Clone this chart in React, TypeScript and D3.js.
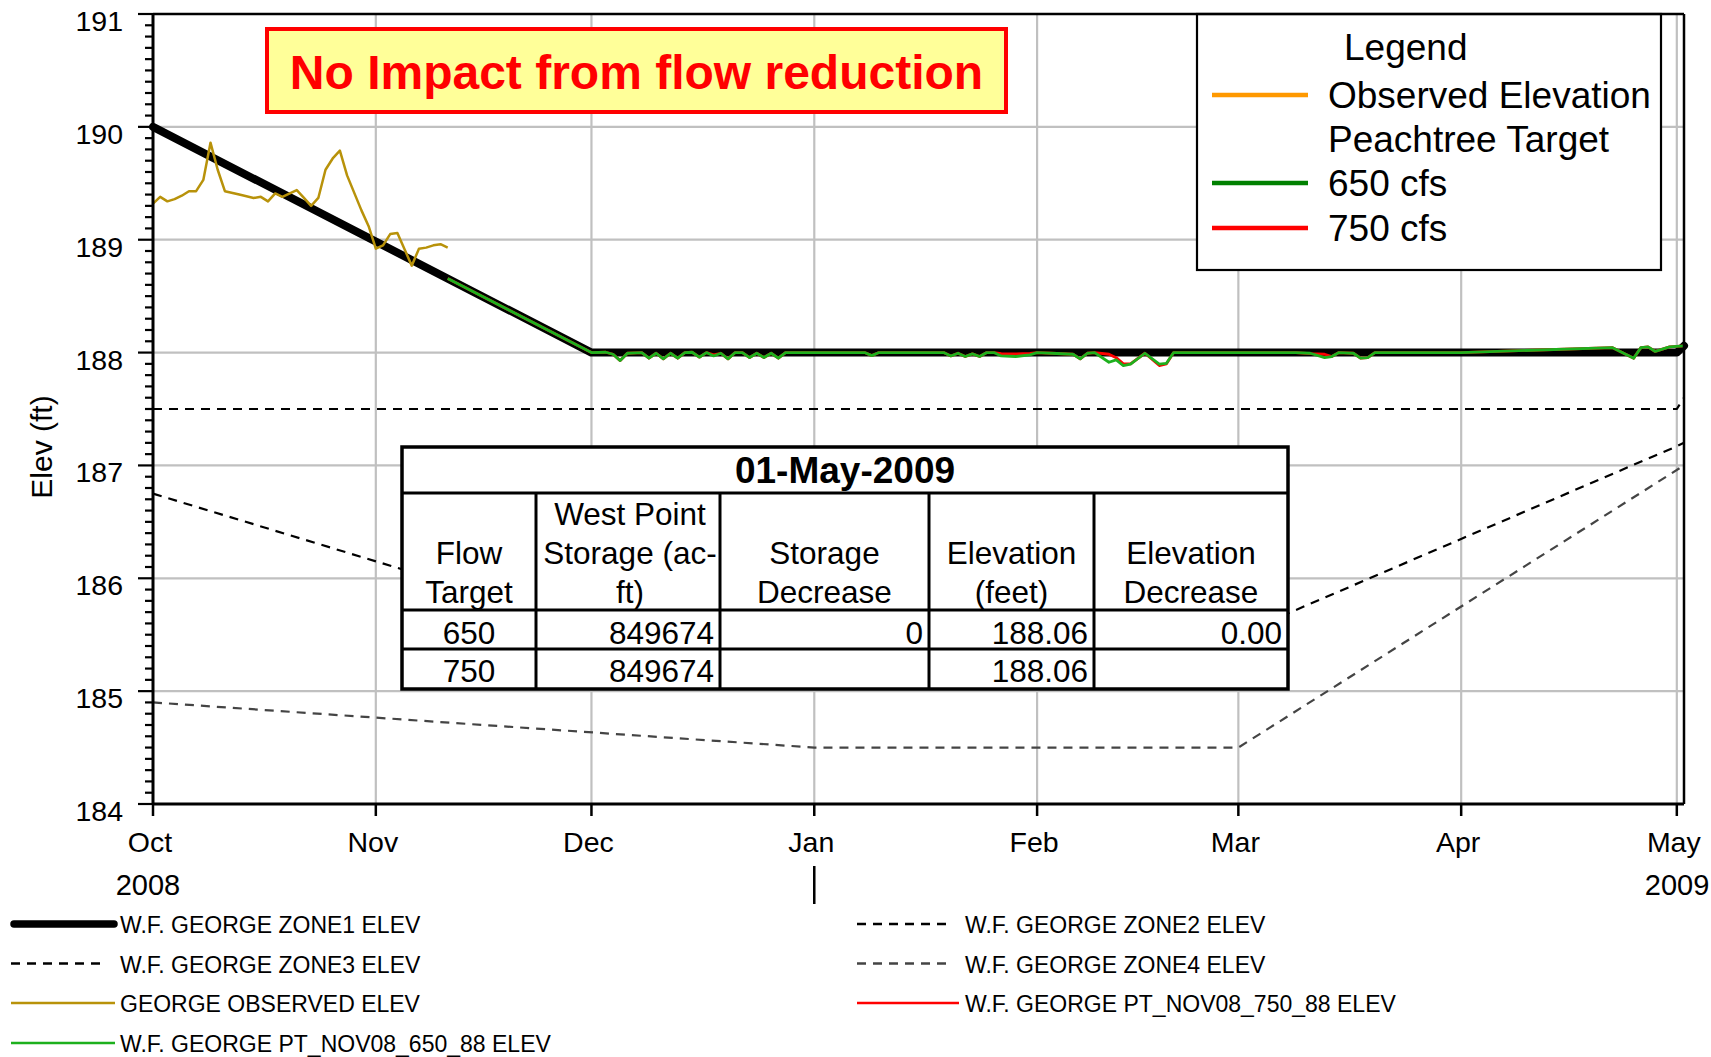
import React from "react";
import * as d3 from "d3";

const FONT = "'Liberation Sans', Arial, Helvetica, sans-serif";

// ---------- data ----------
type Pt = [string, number];

const zone1: Pt[] = [["2008-10-01", 190.0], ["2008-12-01", 188.0], ["2009-05-01", 188.0], ["2009-05-02", 188.06]];
const zone2: Pt[] = [["2008-10-01", 187.5], ["2009-05-01", 187.5], ["2009-05-02", 187.6]];
const zone3: Pt[] = [["2008-10-01", 186.75], ["2008-12-01", 185.57], ["2009-03-01", 185.5], ["2009-05-01", 187.17], ["2009-05-02", 187.2]];
const zone4: Pt[] = [["2008-10-01", 184.9], ["2009-01-01", 184.5], ["2009-03-01", 184.5], ["2009-05-02", 187.0]];

const observed: Pt[] = [
  ["2008-10-01", 189.32], ["2008-10-02", 189.38], ["2008-10-03", 189.34], ["2008-10-04", 189.36],
  ["2008-10-05", 189.39], ["2008-10-06", 189.43], ["2008-10-07", 189.43], ["2008-10-08", 189.53],
  ["2008-10-09", 189.86], ["2008-10-10", 189.62], ["2008-10-11", 189.43], ["2008-10-13", 189.4],
  ["2008-10-15", 189.37], ["2008-10-16", 189.38], ["2008-10-17", 189.34], ["2008-10-18", 189.41],
  ["2008-10-19", 189.38], ["2008-10-21", 189.44], ["2008-10-22", 189.37], ["2008-10-23", 189.3],
  ["2008-10-24", 189.37], ["2008-10-25", 189.62], ["2008-10-26", 189.72], ["2008-10-27", 189.79],
  ["2008-10-28", 189.57], ["2008-10-30", 189.26], ["2008-10-31", 189.12], ["2008-11-01", 188.92],
  ["2008-11-02", 188.95], ["2008-11-03", 189.05], ["2008-11-04", 189.06], ["2008-11-06", 188.77],
  ["2008-11-07", 188.92], ["2008-11-08", 188.93], ["2008-11-09", 188.95], ["2008-11-10", 188.96],
  ["2008-11-11", 188.93],
];

const target650: Pt[] = [
  ["2008-11-11", 188.656], ["2008-12-01", 188.0], ["2008-12-03", 188.003], ["2008-12-04", 187.985],
  ["2008-12-05", 187.929], ["2008-12-06", 187.994], ["2008-12-08", 188.0], ["2008-12-09", 187.95],
  ["2008-12-10", 187.994], ["2008-12-11", 187.944], ["2008-12-12", 187.994], ["2008-12-13", 187.95],
  ["2008-12-14", 188.0], ["2008-12-15", 188.003], ["2008-12-16", 187.959], ["2008-12-17", 188.0],
  ["2008-12-18", 187.97], ["2008-12-19", 187.994], ["2008-12-20", 187.944], ["2008-12-21", 188.0],
  ["2008-12-22", 188.0], ["2008-12-23", 187.956], ["2008-12-24", 187.994], ["2008-12-25", 187.956],
  ["2008-12-26", 187.994], ["2008-12-27", 187.95], ["2008-12-28", 188.0], ["2009-01-08", 188.0],
  ["2009-01-09", 187.973], ["2009-01-10", 188.0], ["2009-01-19", 188.0], ["2009-01-20", 187.97],
  ["2009-01-21", 187.994], ["2009-01-22", 187.965], ["2009-01-23", 187.988], ["2009-01-24", 187.965],
  ["2009-01-25", 188.0], ["2009-01-26", 188.0], ["2009-01-27", 187.97], ["2009-01-29", 187.965],
  ["2009-01-31", 187.979], ["2009-02-01", 188.0], ["2009-02-03", 187.994], ["2009-02-06", 187.985],
  ["2009-02-07", 187.944], ["2009-02-08", 187.994], ["2009-02-09", 188.0], ["2009-02-11", 187.914],
  ["2009-02-12", 187.935], ["2009-02-13", 187.885], ["2009-02-14", 187.897], ["2009-02-16", 187.994],
  ["2009-02-18", 187.897], ["2009-02-19", 187.905], ["2009-02-20", 188.0], ["2009-03-09", 188.0],
  ["2009-03-11", 187.994], ["2009-03-13", 187.956], ["2009-03-14", 187.965], ["2009-03-15", 188.0],
  ["2009-03-17", 187.994], ["2009-03-18", 187.95], ["2009-03-19", 187.956], ["2009-03-20", 188.0],
  ["2009-04-01", 188.0], ["2009-04-22", 188.044], ["2009-04-25", 187.95], ["2009-04-26", 188.044],
  ["2009-04-27", 188.05], ["2009-04-28", 188.01], ["2009-04-30", 188.05], ["2009-05-01", 188.055],
  ["2009-05-02", 188.06],
];

const target750: Pt[] = [
  ["2008-11-11", 188.656], ["2008-12-01", 188.0], ["2008-12-03", 188.003], ["2008-12-04", 187.985],
  ["2008-12-05", 187.929], ["2008-12-06", 187.994], ["2008-12-08", 188.0], ["2008-12-09", 187.95],
  ["2008-12-10", 187.994], ["2008-12-11", 187.944], ["2008-12-12", 187.994], ["2008-12-13", 187.95],
  ["2008-12-14", 188.0], ["2008-12-15", 188.003], ["2008-12-16", 187.959], ["2008-12-17", 188.0],
  ["2008-12-18", 187.98], ["2008-12-19", 187.994], ["2008-12-20", 187.944], ["2008-12-21", 188.0],
  ["2008-12-22", 188.0], ["2008-12-23", 187.956], ["2008-12-24", 187.994], ["2008-12-25", 187.956],
  ["2008-12-26", 187.994], ["2008-12-27", 187.95], ["2008-12-28", 188.0], ["2009-01-08", 188.0],
  ["2009-01-09", 187.973], ["2009-01-10", 188.0], ["2009-01-19", 188.0], ["2009-01-20", 187.97],
  ["2009-01-21", 187.994], ["2009-01-22", 187.965], ["2009-01-23", 187.988], ["2009-01-24", 187.965],
  ["2009-01-25", 188.0], ["2009-01-26", 188.0], ["2009-01-27", 187.99], ["2009-01-29", 187.988],
  ["2009-01-31", 187.992], ["2009-02-01", 188.0], ["2009-02-03", 187.994], ["2009-02-06", 187.985],
  ["2009-02-07", 187.944], ["2009-02-08", 187.994], ["2009-02-09", 188.0], ["2009-02-11", 187.985],
  ["2009-02-12", 187.955], ["2009-02-13", 187.9], ["2009-02-14", 187.9], ["2009-02-16", 187.994],
  ["2009-02-18", 187.885], ["2009-02-19", 187.9], ["2009-02-20", 188.0], ["2009-03-09", 188.0],
  ["2009-03-11", 187.99], ["2009-03-13", 187.985], ["2009-03-14", 187.965], ["2009-03-15", 188.0],
  ["2009-03-17", 187.994], ["2009-03-18", 187.95], ["2009-03-19", 187.956], ["2009-03-20", 188.0],
  ["2009-04-01", 188.0], ["2009-04-22", 188.044], ["2009-04-25", 187.95], ["2009-04-26", 188.044],
  ["2009-04-27", 188.05], ["2009-04-28", 188.01], ["2009-04-30", 188.05], ["2009-05-01", 188.055],
  ["2009-05-02", 188.06],
];

const monthTicks = ["2008-10-01", "2008-11-01", "2008-12-01", "2009-01-01", "2009-02-01", "2009-03-01", "2009-04-01", "2009-05-01"];
const monthLabels = ["Oct", "Nov", "Dec", "Jan", "Feb", "Mar", "Apr", "May"];
const yearLabels: [string, string][] = [["2008-10-01", "2008"], ["2009-05-01", "2009"]];
const yearBreak = "2009-01-01";
const yTicks = [184, 185, 186, 187, 188, 189, 190, 191];

const titleText = "No Impact from flow reduction";
const legendTitle = "Legend";
const legendItems = [
  { label: "Observed Elevation", color: "#FF9900" },
  { label: "Peachtree Target", color: null },
  { label: "650 cfs", color: "#008000" },
  { label: "750 cfs", color: "#FF0000" },
];

const tableDate = "01-May-2009";
const tableHeaders = [
  ["", "Flow", "Target"],
  ["West Point", "Storage (ac-", "ft)"],
  ["", "Storage", "Decrease"],
  ["", "Elevation", "(feet)"],
  ["", "Elevation", "Decrease"],
];
const tableRows = [
  ["650", "849674", "0", "188.06", "0.00"],
  ["750", "849674", "", "188.06", ""],
];

const seriesLegend = [
  { label: "W.F. GEORGE ZONE1 ELEV", col: 0, row: 0, kind: "zone1" },
  { label: "W.F. GEORGE ZONE3 ELEV", col: 0, row: 1, kind: "zone3" },
  { label: "GEORGE OBSERVED ELEV", col: 0, row: 2, kind: "obs" },
  { label: "W.F. GEORGE PT_NOV08_650_88 ELEV", col: 0, row: 3, kind: "g650" },
  { label: "W.F. GEORGE ZONE2 ELEV", col: 1, row: 0, kind: "zone2" },
  { label: "W.F. GEORGE ZONE4 ELEV", col: 1, row: 1, kind: "zone4" },
  { label: "W.F. GEORGE PT_NOV08_750_88 ELEV", col: 1, row: 2, kind: "r750" },
];

// ---------- styles ----------
const STYLE: Record<string, any> = {
  zone1: { stroke: "#000", width: 8, dash: undefined, cap: "round" },
  zone2: { stroke: "#000", width: 2.2, dash: "9,7" },
  zone3: { stroke: "#000", width: 2.2, dash: "9,7" },
  zone4: { stroke: "#444", width: 2.2, dash: "9,7" },
  obs: { stroke: "#B8920A", width: 2.5 },
  g650: { stroke: "#1DB01D", width: 2.8 },
  r750: { stroke: "#FF0000", width: 2.8 },
};

const parse = d3.utcParse("%Y-%m-%d");

export default function App() {
  const W = 1711, H = 1057;
  const x0 = 153, x1 = 1684, yTop = 14, yBot = 804;
  const x = d3.scaleUtc().domain([parse("2008-10-01")!, parse("2009-05-02")!]).range([x0, x1]);
  const y = d3.scaleLinear().domain([184, 191]).range([yBot, yTop]);
  const line = d3.line<Pt>().x((d) => x(parse(d[0])!)).y((d) => y(d[1]));

  const minor = d3.range(1840, 1911).map((v) => v / 10);

  const seriesPath = (data: Pt[], key: string) => {
    const s = STYLE[key];
    return (
      <path d={line(data) || ""} fill="none" stroke={s.stroke} strokeWidth={s.width}
        strokeDasharray={s.dash} strokeLinecap={s.cap || "butt"} strokeLinejoin="round" />
    );
  };

  // table geometry
  const colX = [402, 536, 720, 929, 1094, 1288];
  const rowY = [447, 493, 610, 649, 689];
  const hdrBase = [525, 564, 603];
  const rowBase = [644, 682];

  const legRowY = [924, 963.5, 1003, 1043];
  const legCols = [
    { solid: [11, 115], dashed: [11, 107], tx: 120 },
    { solid: [857, 959], dashed: [857, 951], tx: 965 },
  ];

  return (
    <svg width={W} height={H} style={{ position: "fixed", left: 0, top: 0, background: "#fff" }}
      fontFamily={FONT}>
      <rect x={0} y={0} width={W} height={H} fill="#fff" />
      {/* grid */}
      {yTicks.filter((v) => v > 184 && v < 191).map((v) => (
        <line key={"gy" + v} x1={x0} x2={x1} y1={y(v)} y2={y(v)} stroke="#C0C0C0" strokeWidth={2.2} />
      ))}
      {monthTicks.slice(1).map((m) => (
        <line key={"gx" + m} x1={x(parse(m)!)} x2={x(parse(m)!)} y1={yTop} y2={yBot} stroke="#C0C0C0" strokeWidth={2.2} />
      ))}

      {/* series */}
      {seriesPath(zone4, "zone4")}
      {seriesPath(zone3, "zone3")}
      {seriesPath(zone2, "zone2")}
      {seriesPath(zone1, "zone1")}
      {seriesPath(observed, "obs")}
      {seriesPath(target750, "r750")}
      {seriesPath(target650, "g650")}

      {/* title box */}
      <rect x={267} y={29} width={739} height={83} fill="#FFFF99" stroke="#FF0000" strokeWidth={4} />
      <text x={636.5} y={89} textAnchor="middle" fontSize={48} fontWeight="bold" fill="#FF0000">{titleText}</text>

      {/* legend box */}
      <rect x={1197} y={14} width={464} height={256} fill="#fff" stroke="#000" strokeWidth={2.2} />
      <text x={1344} y={60} fontSize={37} fill="#000">{legendTitle}</text>
      {legendItems.map((it, i) => {
        const base = [108, 152, 196, 241][i];
        return (
          <g key={"li" + i}>
            {it.color && <line x1={1212} x2={1308} y1={base - 13} y2={base - 13} stroke={it.color} strokeWidth={4.5} />}
            <text x={1328} y={base} fontSize={37} fill="#000">{it.label}</text>
          </g>
        );
      })}

      {/* table */}
      <rect x={colX[0]} y={rowY[0]} width={colX[5] - colX[0]} height={rowY[4] - rowY[0]} fill="#fff" />
      <text x={(colX[0] + colX[5]) / 2} y={483} textAnchor="middle" fontSize={37} fontWeight="bold">{tableDate}</text>
      {tableHeaders.map((h, c) => {
        const clipId = "clipc" + c;
        return (
          <g key={"th" + c}>
            <clipPath id={clipId}>
              <rect x={colX[c]} y={rowY[1]} width={colX[c + 1] - colX[c]} height={rowY[2] - rowY[1]} />
            </clipPath>
            <g clipPath={`url(#${clipId})`}>
              {h.map((t, k) => t ? (
                <text key={k} x={(colX[c] + colX[c + 1]) / 2 + (c === 1 ? 2 : 0)} y={hdrBase[k]} textAnchor="middle" fontSize={31.5}>{t}</text>
              ) : null)}
            </g>
          </g>
        );
      })}
      {tableRows.map((r, ri) => r.map((t, c) => t ? (
        <text key={"td" + ri + c} x={c === 0 ? (colX[0] + colX[1]) / 2 : colX[c + 1] - 6} y={rowBase[ri]}
          textAnchor={c === 0 ? "middle" : "end"} fontSize={31.5}>{t}</text>
      ) : null))}
      {/* table lines */}
      {rowY.slice(1, 4).map((ry, i) => (
        <line key={"tr" + i} x1={colX[0]} x2={colX[5]} y1={ry} y2={ry} stroke="#000" strokeWidth={3} />
      ))}
      {colX.slice(1, 5).map((cx, i) => (
        <line key={"tc" + i} x1={cx} x2={cx} y1={rowY[1]} y2={rowY[4]} stroke="#000" strokeWidth={3} />
      ))}
      <rect x={colX[0]} y={rowY[0]} width={colX[5] - colX[0]} height={rowY[4] - rowY[0]} fill="none" stroke="#000" strokeWidth={3.5} />

      {/* frame */}
      <line x1={x0} x2={x1} y1={yTop} y2={yTop} stroke="#000" strokeWidth={2.5} />
      <line x1={x1} x2={x1} y1={yTop} y2={yBot} stroke="#000" strokeWidth={2.5} />
      {/* y axis */}
      <line x1={x0} x2={x0} y1={yTop} y2={yBot} stroke="#000" strokeWidth={3} />
      {minor.map((v) => {
        const major = Math.abs(v - Math.round(v)) < 1e-6;
        return <line key={"mt" + v} x1={x0 - (major ? 15 : 8)} x2={x0} y1={y(v)} y2={y(v)} stroke="#000" strokeWidth={2.2} />;
      })}
      {yTicks.map((v) => (
        <text key={"yl" + v} x={123} y={y(v) + 17} textAnchor="end" fontSize={28.5}>{v}</text>
      ))}
      <text transform={`translate(52,447) rotate(-90)`} textAnchor="middle" fontSize={30}>Elev (ft)</text>

      {/* x axis */}
      <line x1={x0} x2={x1} y1={yBot} y2={yBot} stroke="#000" strokeWidth={3} />
      {monthTicks.map((m, i) => (
        <g key={"xt" + m}>
          <line x1={x(parse(m)!)} x2={x(parse(m)!)} y1={yBot} y2={yBot + 12} stroke="#000" strokeWidth={2.5} />
          <text x={x(parse(m)!) - 3} y={852} textAnchor="middle" fontSize={28.5}>{monthLabels[i]}</text>
        </g>
      ))}
      {yearLabels.map(([d, t], i) => (
        <text key={"yr" + t} x={i === 0 ? x(parse(d)!) - 5 : x(parse(d)!) - 32} y={895}
          textAnchor={i === 0 ? "middle" : "start"} fontSize={29}>{t}</text>
      ))}
      <line x1={x(parse(yearBreak)!)} x2={x(parse(yearBreak)!)} y1={866} y2={904} stroke="#000" strokeWidth={2.5} />

      {/* bottom legend */}
      {seriesLegend.map((it) => {
        const c = legCols[it.col];
        const ly = legRowY[it.row];
        const s = STYLE[it.kind];
        const seg = s.dash ? c.dashed : c.solid;
        const isZ1 = it.kind === "zone1";
        return (
          <g key={it.label}>
            <line x1={isZ1 ? c.solid[0] + 3 : seg[0]} x2={isZ1 ? c.solid[1] - 1 : seg[1]} y1={ly} y2={ly} stroke={s.stroke}
              strokeWidth={isZ1 ? 7.5 : 2.5} strokeDasharray={s.dash}
              strokeLinecap={isZ1 ? "round" : "butt"} />
            <text x={c.tx} y={ly + 9} fontSize={23}>{it.label}</text>
          </g>
        );
      })}
    </svg>
  );
}
